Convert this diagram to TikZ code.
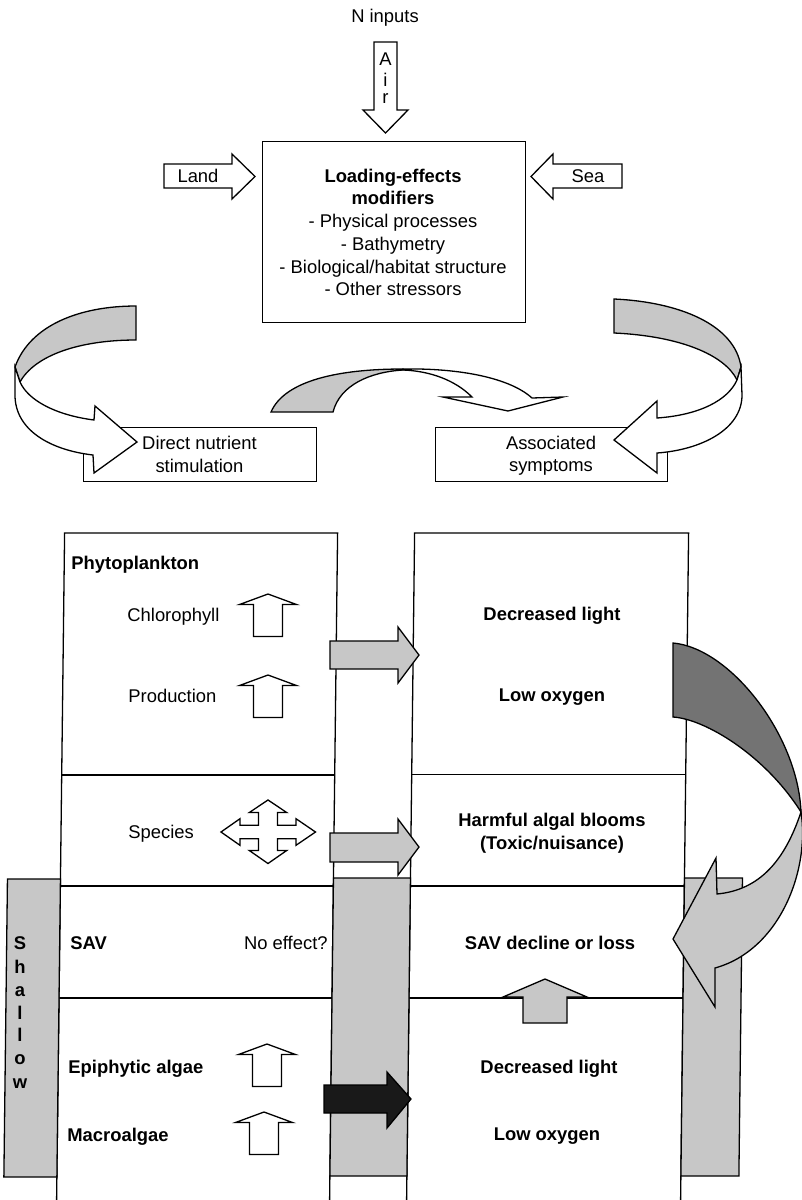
\documentclass[tikz,border=0pt]{standalone}
\usepackage{fontspec}
\setmainfont{Liberation Sans}
\definecolor{lg}{gray}{0.78}
\definecolor{dg}{gray}{0.45}
\definecolor{bk}{gray}{0.1}
\tikzset{
  ln/.style={line width=0.65pt, line join=miter},
  lt/.style={font=\fontsize{9.2}{11.3}\selectfont, inner sep=0pt, text height=6.6pt, text depth=0pt},
  bt/.style={lt, font=\fontsize{9.2}{11.3}\selectfont\bfseries},
  frame/.style={ln, draw=black, inner sep=0pt, anchor=north west},
  whitearr/.style={ln, draw=black, fill=white},
  grayarr/.style={ln, draw=black, fill=lg},
  darkarr/.style={ln, draw=black, fill=dg},
  blackarr/.style={ln, draw=black, fill=bk},
  band/.style={ln, draw=black, fill=lg},
  uparr/.pic={\draw[whitearr] (0,0) -- (28.5,10.5) -- (14.5,10.5) -- (14.5,42.5) -- (-14.5,42.5) -- (-14.5,10.5) -- (-28.5,10.5) -- cycle;},
}
\begin{document}
\begin{tikzpicture}[x=0.5pt,y=-0.5pt]
\useasboundingbox (0,0) rectangle (802,1200);
\clip (0,0) rectangle (802,1200);

% ---------- top part ----------
\node[lt] (nin) at (385,16) {N inputs};
\draw[whitearr] (374,42) -- (397,42) -- (397,110) -- (408,110) -- (385.5,133) -- (363,110) -- (374,110) -- cycle;
\node[lt] (airA) at (385.5,59) {A};
\node[lt] (airI) at (385.5,80) {i};
\node[lt] (airR) at (385.5,97) {r};

\node[frame, minimum width=131.5pt, minimum height=90.5pt] (main) at (262,141) {};
\node[bt] (m1) at (393,176) {Loading-effects};
\node[bt] (m2) at (393,198) {modifiers};
\node[lt] (m3) at (393,221) {- Physical processes};
\node[lt] (m4) at (393,244) {- Bathymetry};
\node[lt] (m5) at (393,267) {- Biological/habitat structure};
\node[lt] (m6) at (393,289) {- Other stressors};

\draw[whitearr] (164,164) -- (232,164) -- (232,154) -- (255,176.5) -- (232,199) -- (232,188) -- (164,188) -- cycle;
\node[lt] (land) at (198,176) {Land};
\draw[whitearr] (622,164) -- (553,164) -- (553,154) -- (531,176.5) -- (553,199) -- (553,188) -- (622,188) -- cycle;
\node[lt] (sea) at (588,176) {Sea};

\node[frame, minimum width=116.5pt, minimum height=27pt] (direct) at (83,427) {};
\node[lt] (d1) at (199.5,443) {Direct nutrient};
\node[lt] (d2) at (199.5,466) {stimulation};
\node[frame, minimum width=116pt, minimum height=27pt] (assoc) at (435,427) {};
\node[lt] (a1) at (551,443) {Associated};
\node[lt] (a2) at (551,465) {symptoms};

% left curved ribbon arrow
\draw[grayarr] (136,306) .. controls (80,306) and (30,325) .. (15,367) -- (20,382)
  .. controls (35,355) and (80,340) .. (136,340) -- cycle;
\draw[whitearr] (15,367) -- (15,395) .. controls (15,430) and (50,450) .. (93,455)
  -- (94,473) -- (137,442) -- (95,406) -- (94,420)
  .. controls (55,415) and (28,400) .. (20,382) -- cycle;

% right curved ribbon arrow
\draw[grayarr] (614,299) .. controls (680,302) and (735,325) .. (741,367) -- (737,380)
  .. controls (725,355) and (680,336) .. (614,333) -- cycle;
\draw[whitearr] (741,367) -- (742,395) .. controls (742,430) and (700,450) .. (657,453)
  -- (657,473) -- (614,440) -- (657,401) -- (657,418)
  .. controls (700,415) and (728,400) .. (737,380) -- cycle;

% middle ribbon arrow
\draw[grayarr] (271,412) .. controls (285,380) and (340,369) .. (403,369)
  -- (403,370) .. controls (370,372) and (340,385) .. (333,412) -- cycle;
\draw[whitearr] (403,369) .. controls (460,368) and (510,378) .. (532,398)
  -- (563,397) -- (508,411) -- (443,397) -- (472,397)
  .. controls (455,380) and (430,371) .. (403,370) -- cycle;

% ---------- lower part (slightly skewed frame) ----------
\begin{scope}[shift={(0,750)}, xslant=0.012, shift={(0,-750)}]
  \draw[ln] (62,533) rectangle (335,1215);
  \draw[ln] (62,775) -- (335,775);
  \draw[ln] (62,886) -- (335,886);
  \draw[ln] (62,998) -- (335,998);
  \draw[ln] (412,533) rectangle (686,1215);
  \draw[ln] (412,774.5) -- (686,774.5);
  \draw[ln] (412,886) -- (686,886);
  \draw[ln] (412,998) -- (686,998);
  \draw[band] (9,879) rectangle (62,1177);
  \draw[band] (335,878) rectangle (412,1176);
  \draw[band] (686,878) rectangle (744,1176);
\end{scope}

% Shallow label
\node[bt] (s1) at (20,943) {S};
\node[bt] (s2) at (20,967) {h};
\node[bt] (s3) at (20,990) {a};
\node[bt] (s4) at (20,1013) {l};
\node[bt] (s5) at (20,1035) {l};
\node[bt] (s6) at (20,1058) {o};
\node[bt] (s7) at (20,1082) {w};

% left column texts
\node[bt, anchor=west] (phy) at (71,563) {Phytoplankton};
\node[lt, anchor=west] (chl) at (127,615) {Chlorophyll};
\pic at (268,594) {uparr};
\node[lt, anchor=west] (prod) at (128,696) {Production};
\pic at (268,675) {uparr};
\node[lt, anchor=west] (spec) at (128,832) {Species};
\begin{scope}[shift={(268,832)}]
  \draw[whitearr] (0,-32) -- (18.7,-19.5) -- (9.5,-19.5) -- (9.5,-6.7) -- (28,-6.7) -- (28,-13.3)
    -- (47.5,0) -- (28,13.3) -- (28,6.7) -- (9.5,6.7) -- (9.5,18.5) -- (18.7,18.5) -- (0,31.5)
    -- (-18.7,18.5) -- (-9.5,18.5) -- (-9.5,6.7) -- (-28,6.7) -- (-28,13.3) -- (-47,0)
    -- (-28,-13.3) -- (-28,-6.7) -- (-9.5,-6.7) -- (-9.5,-19.5) -- (-18.7,-19.5) -- cycle;
\end{scope}
\node[bt, anchor=west] (sav) at (70,943) {SAV};
\node[lt, anchor=east] (noeff) at (328,943) {No effect?};
\node[bt, anchor=west] (epi) at (68,1067) {Epiphytic algae};
\pic at (267,1044) {uparr};
\node[bt, anchor=west] (macro) at (67,1135) {Macroalgae};
\pic at (264,1112) {uparr};

% right column texts
\node[bt] (r1) at (552,614) {Decreased light};
\node[bt] (r2) at (552,695) {Low oxygen};
\node[bt] (r3) at (552,820) {Harmful algal blooms};
\node[bt] (r4) at (552,843) {(Toxic/nuisance)};
\node[bt] (r5) at (550,943) {SAV decline or loss};
\node[bt] (r6) at (549,1067) {Decreased light};
\node[bt] (r7) at (547,1134) {Low oxygen};

% horizontal arrows between columns
\draw[grayarr] (330,641) -- (398,641) -- (398,627) -- (419,655) -- (398,683) -- (398,669) -- (330,669) -- cycle;
\draw[grayarr] (330,833) -- (398,833) -- (398,819) -- (419,847) -- (398,875) -- (398,862) -- (330,862) -- cycle;
\draw[blackarr] (324,1085) -- (387,1085) -- (387,1072) -- (411,1099) -- (387,1128) -- (387,1113) -- (324,1113) -- cycle;

% gray up arrow to SAV decline
\draw[grayarr] (545,979) -- (587,997) -- (567,997) -- (567,1023) -- (523,1023) -- (523,997) -- (503,997) -- cycle;

% dark curved arrow on the right
\draw[darkarr] (673,643) .. controls (730,648) and (798,735) .. (801,812)
  .. controls (765,755) and (705,719) .. (673,717) -- cycle;
\draw[grayarr] (801,812) .. controls (810,870) and (780,950) .. (715,968)
  -- (715,1007) -- (673,939) -- (716,858) -- (717,894)
  .. controls (760,890) and (785,860) .. (801,812) -- cycle;

\end{tikzpicture}
\end{document}
